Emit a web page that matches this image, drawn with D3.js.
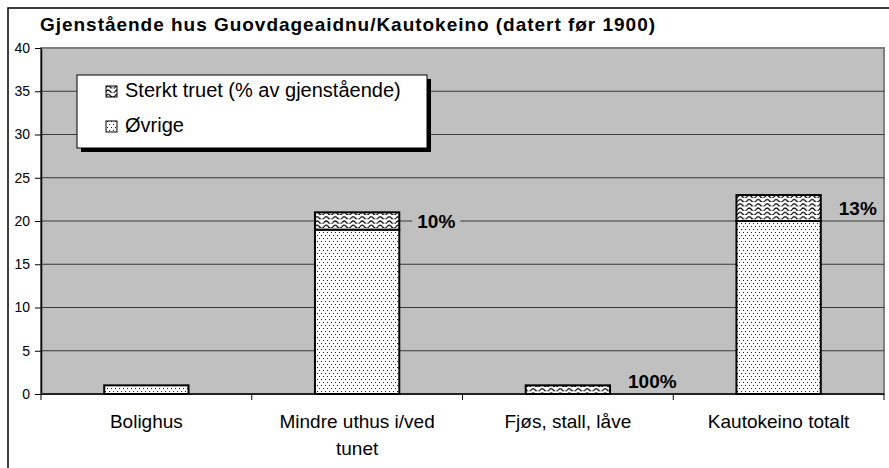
<!DOCTYPE html>
<html lang="no">
<head>
<meta charset="UTF-8">
<title>Gjenstående hus Guovdageaidnu/Kautokeino</title>
<style>
  body { margin: 0; background: #fff; }
  svg { display: block; font-family: "Liberation Sans", Arial, sans-serif; }
</style>
<script src="https://d3js.org/d3.v7.min.js"></script>
</head>
<body>
<div id="chart"></div>
<script>
// data
var categories = ["Bolighus", "Mindre uthus i/ved tunet", "Fjøs, stall, låve", "Kautokeino totalt"];
var ovrige = [1, 19, 0, 20];
var truet = [0, 2, 1, 3];
var yTicks = [0, 5, 10, 15, 20, 25, 30, 35, 40];
var seriesNames = ["Sterkt truet (% av gjenstående)", "Øvrige"];

var width = 889, height = 468;
var plot = { left: 41, top: 48, right: 884, bottom: 394 };

var svg = d3.select("#chart").append("svg")
    .attr("width", width)
    .attr("height", height);

// patterns
var defs = svg.append("defs");
var dots = defs.append("pattern")
    .attr("id", "dots")
    .attr("patternUnits", "userSpaceOnUse")
    .attr("width", 8).attr("height", 6);
dots.append("rect").attr("width", 8).attr("height", 6).attr("fill", "#fff");
[[1, 1], [5, 1], [3, 4], [7, 4]].forEach(function(p) {
  dots.append("rect").attr("x", p[0]).attr("y", p[1])
      .attr("width", 1).attr("height", 1).attr("fill", "#222");
});

var wave = defs.append("pattern")
    .attr("id", "wave")
    .attr("patternUnits", "userSpaceOnUse")
    .attr("width", 9).attr("height", 4.3);
wave.append("rect").attr("width", 9).attr("height", 4.3).attr("fill", "#fff");
wave.append("path")
    .attr("d", "M0,3.2 Q2.25,0.2 4.5,3.2 T9,3.2")
    .attr("fill", "none")
    .attr("stroke", "#000")
    .attr("stroke-width", 1.2);

// chart border
svg.append("rect")
    .attr("x", 8).attr("y", 8)
    .attr("width", width + 20).attr("height", height + 20)
    .attr("fill", "#fff")
    .attr("stroke", "#000")
    .attr("stroke-width", 1.5);

// title
svg.append("text")
    .attr("x", 40).attr("y", 31)
    .attr("font-size", 19)
    .attr("font-weight", "bold")
    .attr("textLength", 615)
    .attr("lengthAdjust", "spacing")
    .text("Gjenstående hus Guovdageaidnu/Kautokeino (datert før 1900)");

var x = d3.scaleBand()
    .domain(categories)
    .range([plot.left, plot.right])
    .paddingInner(0.6)
    .paddingOuter(0.3);

var band = d3.scaleBand().domain(categories).range([plot.left, plot.right]);

var y = d3.scaleLinear()
    .domain([0, 40])
    .range([plot.bottom, plot.top]);

// plot area
svg.append("rect")
    .attr("x", plot.left).attr("y", plot.top)
    .attr("width", plot.right - plot.left)
    .attr("height", plot.bottom - plot.top)
    .attr("fill", "#c0c0c0")
    .attr("stroke", "#808080")
    .attr("stroke-width", 2);

// gridlines
svg.append("g").selectAll("line")
    .data(yTicks.filter(function(d) { return d > 0 && d < 40; }))
    .join("line")
    .attr("x1", plot.left).attr("x2", plot.right)
    .attr("y1", function(d) { return y(d); })
    .attr("y2", function(d) { return y(d); })
    .attr("stroke", "#3a3a3a")
    .attr("stroke-width", 1);

// y axis
var yAxis = svg.append("g")
    .attr("transform", "translate(" + plot.left + ",0)")
    .call(d3.axisLeft(y).tickValues(yTicks).tickSize(6).tickPadding(5).tickSizeOuter(0));
yAxis.select(".domain").attr("stroke", "#000").attr("stroke-width", 1.5);
yAxis.selectAll(".tick line").attr("stroke", "#000");
yAxis.selectAll(".tick text")
    .attr("font-size", 14)
    .attr("font-family", "Liberation Sans, Arial, sans-serif")
    .attr("fill", "#000");

// x axis (tick marks at category boundaries)
var xAxis = svg.append("g").attr("class", "xaxis");
xAxis.append("line")
    .attr("x1", plot.left).attr("x2", plot.right)
    .attr("y1", plot.bottom).attr("y2", plot.bottom)
    .attr("stroke", "#222").attr("stroke-width", 2);
xAxis.selectAll("line.tk")
    .data(categories)
    .join("line")
    .attr("class", "tk")
    .attr("x1", function(d) { return band(d) + band.bandwidth(); })
    .attr("x2", function(d) { return band(d) + band.bandwidth(); })
    .attr("y1", plot.bottom).attr("y2", plot.bottom + 6)
    .attr("stroke", "#000");
xAxis.append("line")
    .attr("x1", plot.left).attr("x2", plot.left)
    .attr("y1", plot.bottom).attr("y2", plot.bottom + 6)
    .attr("stroke", "#000");

// category labels, wrapped
var catLabels = xAxis.selectAll("text.cat")
    .data(categories)
    .join("text")
    .attr("class", "cat")
    .attr("x", function(d) { return band(d) + band.bandwidth() / 2; })
    .attr("y", 428)
    .attr("text-anchor", "middle")
    .attr("font-size", 19)
    .attr("fill", "#000");
catLabels.each(function(d) {
  var el = d3.select(this);
  var words = d.split(" ");
  var line = [];
  var tspan = el.append("tspan").attr("x", el.attr("x")).attr("dy", 0);
  words.forEach(function(w) {
    line.push(w);
    tspan.text(line.join(" "));
    if (tspan.node().getComputedTextLength() > 165 && line.length > 1) {
      line.pop();
      tspan.text(line.join(" "));
      line = [w];
      tspan = el.append("tspan").attr("x", el.attr("x")).attr("dy", 27).text(w);
    }
  });
});

// bars
var rows = categories.map(function(c, i) {
  return { cat: c, ovrige: ovrige[i], truet: truet[i], total: ovrige[i] + truet[i] };
});

var bars = svg.append("g");
bars.selectAll("rect.ov")
    .data(rows.filter(function(d) { return d.ovrige > 0; }))
    .join("rect")
    .attr("class", "ov")
    .attr("x", function(d) { return x(d.cat); })
    .attr("width", x.bandwidth())
    .attr("y", function(d) { return y(d.ovrige); })
    .attr("height", function(d) { return y(0) - y(d.ovrige); })
    .attr("fill", "url(#dots)")
    .attr("stroke", "#000")
    .attr("stroke-width", 2);
bars.selectAll("rect.tr")
    .data(rows.filter(function(d) { return d.truet > 0; }))
    .join("rect")
    .attr("class", "tr")
    .attr("x", function(d) { return x(d.cat); })
    .attr("width", x.bandwidth())
    .attr("y", function(d) { return y(d.total); })
    .attr("height", function(d) { return y(d.ovrige) - y(d.total); })
    .attr("fill", "url(#wave)")
    .attr("stroke", "#000")
    .attr("stroke-width", 2);

// percentage labels
var pct = d3.format(".0%");
var labels = svg.append("g").selectAll("g")
    .data(rows.filter(function(d) { return d.truet > 0; }))
    .join("g")
    .attr("transform", function(d) {
      var ly = Math.min(y(d.ovrige + d.truet / 2) + 7, plot.bottom - 6);
      return "translate(" + (x(d.cat) + x.bandwidth() + 18) + "," + ly + ")";
    });
labels.append("text")
    .attr("font-size", 19)
    .attr("font-weight", "bold")
    .text(function(d) { return pct(d.truet / d.total); });
labels.insert("rect", "text")
    .each(function() {
      var t = this.parentNode.querySelector("text").getBBox();
      d3.select(this)
        .attr("x", t.x - 5).attr("y", t.y)
        .attr("width", t.width + 10).attr("height", t.height)
        .attr("fill", "#c0c0c0");
    });

// legend
var legend = svg.append("g");
legend.append("rect")
    .attr("x", 81).attr("y", 79)
    .attr("width", 350).attr("height", 73)
    .attr("fill", "#000");
legend.append("rect")
    .attr("x", 77).attr("y", 75)
    .attr("width", 350).attr("height", 73)
    .attr("fill", "#fff")
    .attr("stroke", "#000")
    .attr("stroke-width", 1);
var fills = ["url(#wave)", "url(#dots)"];
var entries = legend.selectAll("g.entry")
    .data(seriesNames)
    .join("g")
    .attr("class", "entry")
    .attr("transform", function(d, i) { return "translate(106," + (97 + i * 35) + ")"; });
entries.append("rect")
    .attr("x", 0).attr("y", -11)
    .attr("width", 11).attr("height", 11)
    .attr("fill", function(d, i) { return fills[i]; })
    .attr("stroke", "#000")
    .attr("stroke-width", 1);
entries.append("text")
    .attr("x", 19).attr("y", 0)
    .attr("font-size", 20)
    .text(function(d) { return d; });
</script>
</body>
</html>
